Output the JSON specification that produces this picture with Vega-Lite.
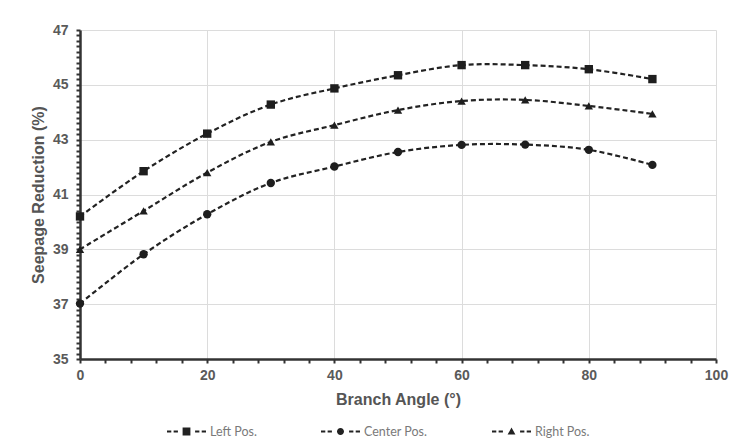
{
  "$schema": "https://vega.github.io/schema/vega-lite/v6.json",
  "autosize": "none",
  "width": 636,
  "height": 329,
  "padding": {"left": 80, "top": 30, "right": 33, "bottom": 85},
  "background": "white",
  "config": {
    "view": {"stroke": null},
    "axis": {
      "labelFont": "Liberation Sans",
      "labelFontWeight": "bold",
      "labelFontSize": 14,
      "labelColor": "#5a5a5a",
      "labelFlush": false,
      "titleFont": "Liberation Sans",
      "titleFontWeight": "bold",
      "titleFontSize": 16,
      "titleColor": "#555555",
      "domainColor": "#333333",
      "domainWidth": 2.5,
      "tickColor": "#333333",
      "tickWidth": 2,
      "tickSize": 4,
      "gridWidth": 1
    }
  },
  "data": {
    "values": [
      {"series": "Left Pos.", "angle": 0, "value": 40.2},
      {"series": "Left Pos.", "angle": 10, "value": 41.85},
      {"series": "Left Pos.", "angle": 20, "value": 43.22},
      {"series": "Left Pos.", "angle": 30, "value": 44.28},
      {"series": "Left Pos.", "angle": 40, "value": 44.87},
      {"series": "Left Pos.", "angle": 50, "value": 45.35},
      {"series": "Left Pos.", "angle": 60, "value": 45.72},
      {"series": "Left Pos.", "angle": 70, "value": 45.72},
      {"series": "Left Pos.", "angle": 80, "value": 45.57},
      {"series": "Left Pos.", "angle": 90, "value": 45.21},
      {"series": "Center Pos.", "angle": 0, "value": 37.02},
      {"series": "Center Pos.", "angle": 10, "value": 38.82},
      {"series": "Center Pos.", "angle": 20, "value": 40.28},
      {"series": "Center Pos.", "angle": 30, "value": 41.42},
      {"series": "Center Pos.", "angle": 40, "value": 42.02},
      {"series": "Center Pos.", "angle": 50, "value": 42.55},
      {"series": "Center Pos.", "angle": 60, "value": 42.81},
      {"series": "Center Pos.", "angle": 70, "value": 42.82},
      {"series": "Center Pos.", "angle": 80, "value": 42.63},
      {"series": "Center Pos.", "angle": 90, "value": 42.08},
      {"series": "Right Pos.", "angle": 0, "value": 39.0},
      {"series": "Right Pos.", "angle": 10, "value": 40.4},
      {"series": "Right Pos.", "angle": 20, "value": 41.8},
      {"series": "Right Pos.", "angle": 30, "value": 42.92},
      {"series": "Right Pos.", "angle": 40, "value": 43.53},
      {"series": "Right Pos.", "angle": 50, "value": 44.08},
      {"series": "Right Pos.", "angle": 60, "value": 44.41},
      {"series": "Right Pos.", "angle": 70, "value": 44.45},
      {"series": "Right Pos.", "angle": 80, "value": 44.23},
      {"series": "Right Pos.", "angle": 90, "value": 43.94}
    ]
  },
  "encoding": {
    "x": {
      "field": "angle",
      "type": "quantitative",
      "scale": {"domain": [0, 100], "nice": false},
      "axis": {
        "title": "Branch Angle (°)",
        "values": [0, 4, 8, 12, 16, 20, 24, 28, 32, 36, 40, 44, 48, 52, 56, 60, 64, 68, 72, 76, 80, 84, 88, 92, 96, 100],
        "labelExpr": "datum.value % 20 === 0 ? datum.label : ''",
        "labelPadding": 5,
        "titlePadding": 9,
        "gridColor": {"condition": {"test": "datum.value % 20 === 0", "value": "#dcdcdc"}, "value": "transparent"}
      }
    },
    "y": {
      "field": "value",
      "type": "quantitative",
      "scale": {"domain": [35, 47], "nice": false, "zero": false},
      "axis": {
        "title": "Seepage Reduction (%)",
        "values": [35, 35.2, 35.4, 35.6, 35.8, 36, 36.2, 36.4, 36.6, 36.8, 37, 37.2, 37.4, 37.6, 37.8, 38, 38.2, 38.4, 38.6, 38.8, 39, 39.2, 39.4, 39.6, 39.8, 40, 40.2, 40.4, 40.6, 40.8, 41, 41.2, 41.4, 41.6, 41.8, 42, 42.2, 42.4, 42.6, 42.8, 43, 43.2, 43.4, 43.6, 43.8, 44, 44.2, 44.4, 44.6, 44.8, 45, 45.2, 45.4, 45.6, 45.8, 46, 46.2, 46.4, 46.6, 46.8, 47],
        "labelExpr": "(datum.value === 35 || datum.value === 37 || datum.value === 39 || datum.value === 41 || datum.value === 43 || datum.value === 45 || datum.value === 47) ? format(datum.value, 'd') : ''",
        "labelPadding": 8,
        "titlePadding": 6,
        "gridColor": {"condition": {"test": "datum.value === 37 || datum.value === 39 || datum.value === 41 || datum.value === 43 || datum.value === 45 || datum.value === 47", "value": "#dcdcdc"}, "value": "transparent"}
      }
    }
  },
  "layer": [
    {
      "mark": {"type": "line", "interpolate": "catmull-rom", "color": "#222222", "strokeWidth": 2.2, "strokeDash": [5, 3]},
      "encoding": {"detail": {"field": "series"}}
    },
    {
      "mark": {"type": "point", "filled": true, "color": "#1e1e1e", "opacity": 1},
      "encoding": {
        "shape": {
          "field": "series",
          "type": "nominal",
          "scale": {"domain": ["Left Pos.", "Center Pos.", "Right Pos."], "range": ["square", "circle", "triangle-up"]},
          "legend": null
        },
        "size": {"value": 70}
      }
    },
    {
      "transform": [{"filter": "datum.angle < 0"}],
      "mark": {"type": "point", "filled": true, "color": "#222222", "opacity": 1},
      "encoding": {
        "shape": {
          "field": "series",
          "type": "nominal",
          "scale": {
            "domain": ["Left Pos.", "Center Pos.", "Right Pos."],
            "range": [
              "M-1,-0.05L-0.78,-0.05L-0.78,0.05L-1,0.05ZM-0.66,-0.05L-0.44,-0.05L-0.44,0.05L-0.66,0.05ZM-0.2,-0.2L0.2,-0.2L0.2,0.2L-0.2,0.2ZM0.44,-0.05L0.66,-0.05L0.66,0.05L0.44,0.05ZM0.78,-0.05L1,-0.05L1,0.05L0.78,0.05Z",
              "M-1,-0.05L-0.78,-0.05L-0.78,0.05L-1,0.05ZM-0.66,-0.05L-0.44,-0.05L-0.44,0.05L-0.66,0.05ZM0.18,0A0.18,0.18 0 1,1 -0.18,0A0.18,0.18 0 1,1 0.18,0ZM0.44,-0.05L0.66,-0.05L0.66,0.05L0.44,0.05ZM0.78,-0.05L1,-0.05L1,0.05L0.78,0.05Z",
              "M-1,-0.05L-0.78,-0.05L-0.78,0.05L-1,0.05ZM-0.66,-0.05L-0.44,-0.05L-0.44,0.05L-0.66,0.05ZM-0.2,0.16L0.2,0.16L0,-0.2ZM0.44,-0.05L0.66,-0.05L0.66,0.05L0.44,0.05ZM0.78,-0.05L1,-0.05L1,0.05L0.78,0.05Z"
            ]
          },
          "legend": {
            "title": null,
            "orient": "none",
            "direction": "horizontal",
            "legendX": 87,
            "legendY": 382,
            "symbolSize": 1521,
            "symbolStrokeWidth": 0,
            "symbolFillColor": "#222222",
            "symbolOpacity": 1,
            "labelFont": "Lato",
            "labelFontSize": 12.5,
            "labelColor": "#7a7a7a",
            "labelOffset": 4,
            "columnPadding": 64
          }
        }
      }
    }
  ],
  "resolve": {"scale": {"shape": "independent"}, "legend": {"shape": "independent"}}
}
